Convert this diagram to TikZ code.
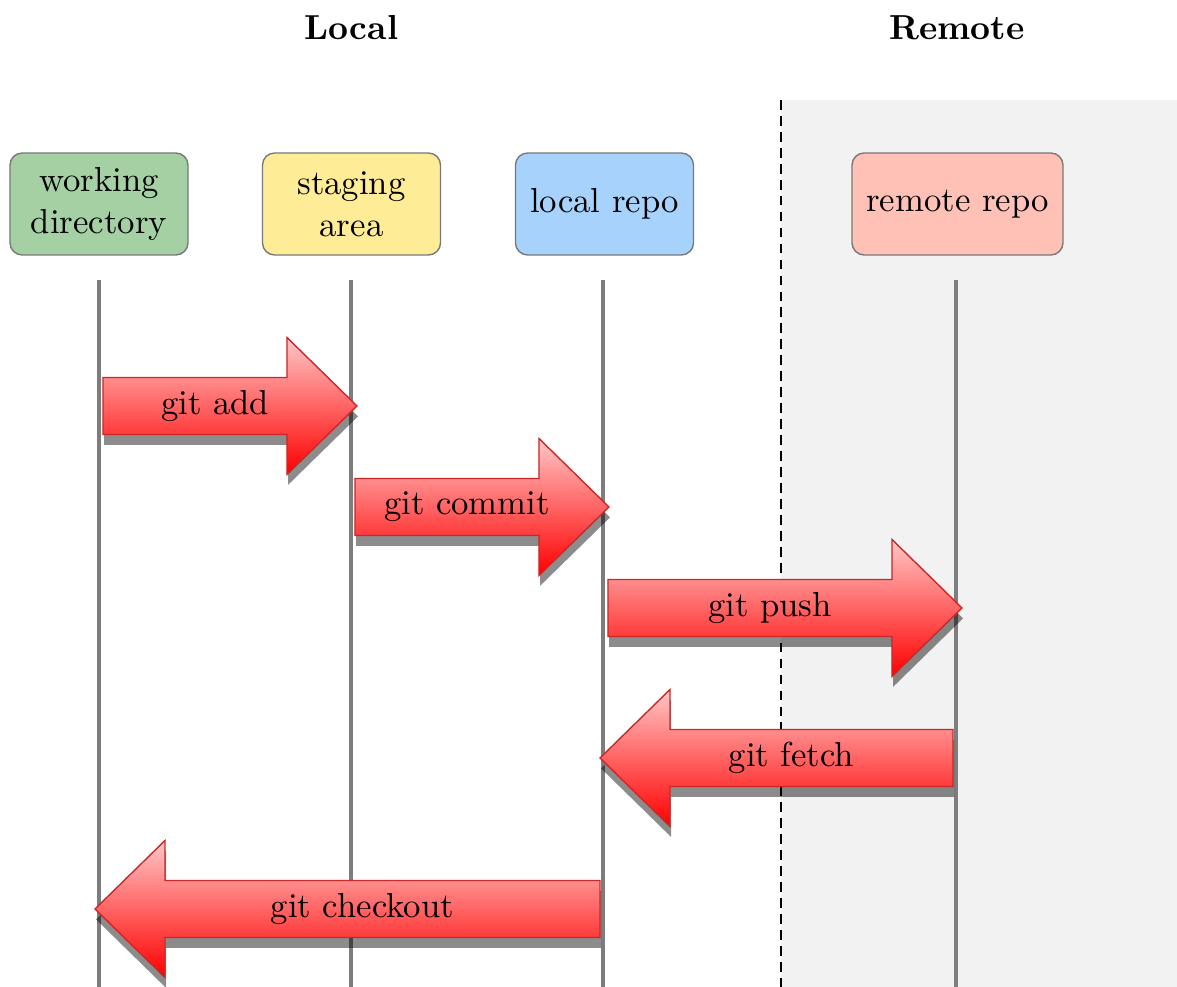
\documentclass[tikz,border=0pt]{standalone}
\usetikzlibrary{calc,shadows}
\definecolor{wdgreen}{RGB}{164,208,164}
\definecolor{sayellow}{RGB}{255,236,150}
\definecolor{lrblue}{RGB}{166,210,252}
\definecolor{rrpink}{RGB}{255,192,182}
\definecolor{boxborder}{RGB}{120,120,120}
\definecolor{lifegray}{RGB}{125,125,125}
\definecolor{remotebg}{RGB}{242,242,242}
\definecolor{arrowborder}{RGB}{200,40,40}
\begin{document}
\begin{tikzpicture}[x=0.2882pt,y=-0.2882pt,
  stagebox/.style={draw=boxborder, line width=0.4pt, rounded corners=3.5pt,
    align=center, minimum height=29.4pt, minimum width=51.3pt, inner sep=2pt},
  lifeline/.style={draw=lifegray, line width=1.15pt},
  titlelabel/.style={font=\bfseries},
  gitarrow/.style={draw=arrowborder, line width=0.4pt, top color=red!22, bottom color=red,
    drop shadow={shadow xshift=0.3pt, shadow yshift=-3pt, opacity=0.45, fill=black}},
  arrowlabel/.style={inner sep=0pt}]
\useasboundingbox (0,0) rectangle (1177,987);
\fill[remotebg] (781,100) rectangle (1177,987);
\coordinate (divtop) at (781,100);
\coordinate (divbot) at (781,987);
\draw[dash pattern=on 2.8pt off 1.8pt, line width=0.5pt] (divtop) -- (divbot);
\node[titlelabel] (local) at (351.5,28) {Local};
\node[titlelabel] (remote) at (957,28) {Remote};
\node[stagebox, fill=wdgreen] (wd) at (99,204) {working\\directory};
\node[stagebox, fill=sayellow] (sa) at (351.5,204) {staging\\area};
\node[stagebox, fill=lrblue] (lr) at (604.5,204) {local repo};
\node[stagebox, fill=rrpink, minimum width=60.8pt] (rr) at (957.5,204) {remote repo};
\foreach \n/\lx in {wd/99,sa/351,lr/603,rr/956}{
  \coordinate (\n top) at (\lx,280);
  \coordinate (\n bot) at (\lx,987);
  \draw[lifeline] (\n top) -- (\n bot);
}
\foreach \nm/\xs/\xe/\yy/\lab in {add/103/357/406/git add, commit/355/609/507/git commit, push/608/962/608/git push, fetch/953/600/758/git fetch, checkout/600/95/909/git checkout}{
  \pgfmathsetmacro\hb{ifthenelse(\xe>\xs,-70,70)}
  \pgfmathsetmacro\tx{(\xs+\xe)/2+\hb*15/70}
  \coordinate (\nm tail) at (\xs,\yy);
  \coordinate (\nm tip) at (\xe,\yy);
  \path[gitarrow] ($(\nm tail)+(0,-28.5)$) -- ($(\nm tip)+(\hb,-28.5)$) -- ($(\nm tip)+(\hb,-68.5)$)
    -- (\nm tip) -- ($(\nm tip)+(\hb,68.5)$) -- ($(\nm tip)+(\hb,28.5)$) -- ($(\nm tail)+(0,28.5)$) -- cycle;
  \node[arrowlabel] (\nm label) at (\tx,\yy) {\lab};
}
\end{tikzpicture}
\end{document}
